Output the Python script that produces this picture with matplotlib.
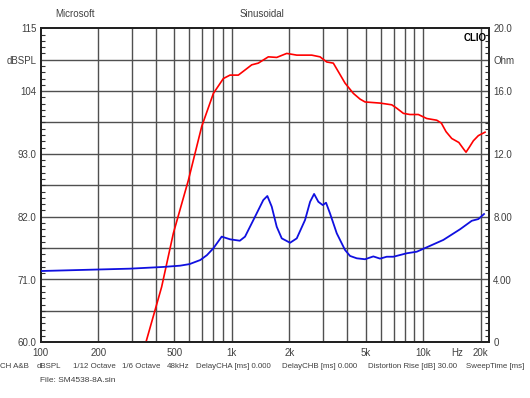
import matplotlib.pyplot as plt
from matplotlib.ticker import FixedLocator, NullFormatter

plt.rcParams['font.family'] = ['Liberation Sans', 'DejaVu Sans']

# SPL response (red, left axis, dBSPL)
spl_freq = [330, 355, 429, 494, 592, 695, 800, 902, 977, 1080, 1171, 1269, 1374,
            1550, 1715, 1935, 2183, 2614, 2890, 3132, 3390, 3676, 3904, 4315,
            4677, 4967, 5952, 6853, 7278, 7882, 8526, 9437, 10440, 11780, 12450,
            13170, 14110, 15370, 16320, 16760, 17460, 18310, 19440, 21070]
spl_db = [56.0, 60.0, 69.7, 79.1, 88.4, 97.8, 103.6, 106.2, 106.8, 106.8, 107.7,
          108.6, 108.9, 110.0, 109.9, 110.6, 110.3, 110.3, 110.0, 109.1, 108.9,
          106.9, 105.4, 103.6, 102.6, 102.1, 101.9, 101.6, 101.0, 100.1, 99.9,
          99.9, 99.2, 98.9, 98.4, 96.9, 95.7, 95.0, 93.8, 93.3, 94.2, 95.3, 96.2,
          96.8]

# Impedance (blue, right axis, Ohm)
imp_freq = [100, 293, 438, 535, 600, 683, 740, 800, 884, 978, 1100, 1171, 1321,
            1459, 1532, 1615, 1715, 1822, 2014, 2183, 2412, 2563, 2690, 2831,
            2985, 3106, 3260, 3534, 3904, 4147, 4496, 4967, 5490, 5952, 6450,
            6985, 8208, 9258, 10440, 12750, 15600, 17960, 19440, 20820]
imp_ohm = [4.54, 4.69, 4.80, 4.88, 4.98, 5.24, 5.55, 5.99, 6.73, 6.56, 6.47, 6.73,
           8.00, 9.06, 9.32, 8.64, 7.36, 6.62, 6.34, 6.62, 7.79, 8.95, 9.45, 8.95,
           8.74, 8.89, 8.20, 6.94, 5.88, 5.50, 5.35, 5.29, 5.47, 5.33, 5.45, 5.45,
           5.67, 5.77, 6.05, 6.52, 7.20, 7.74, 7.85, 8.17]

db_ticks = [60, 71, 82, 93, 104, 109.5, 115]
db_labels = ['60.0', '71.0', '82.0', '93.0', '104', 'dBSPL', '115']
ohm_ticks = [0, 4, 8, 12, 16, 18, 20]
ohm_labels = ['0', '4.00', '8.00', '12.0', '16.0', 'Ohm', '20.0']
freq_ticks = [100, 200, 500, 1000, 2000, 5000, 10000, 15000, 20000]
freq_labels = ['100', '200', '500', '1k', '2k', '5k', '10k', 'Hz', '20k']
grid_db = [65.5, 71, 76.5, 82, 87.5, 93, 98.5, 104, 109.5]
grid_freq = [200, 300, 400, 500, 600, 700, 800, 900, 1000, 2000, 3000, 4000,
             5000, 6000, 7000, 8000, 9000, 10000, 20000]

footer = ['CH A&B', 'dBSPL', '1/12 Octave', '1/6 Octave', '48kHz',
          'DelayCHA [ms] 0.000', 'DelayCHB [ms] 0.000',
          'Distortion Rise [dB] 30.00', 'SweepTime [ms]']
footer_x = [0, 37, 73, 122, 167, 196, 282, 368, 466]

txt = '#404040'
fig = plt.figure(figsize=(5.3, 3.98), dpi=100)
ax = fig.add_axes([40.7 / 530, 1 - 342.3 / 398, (489 - 40.7) / 530, 314 / 398])
ax.set_xscale('log')
ax.set_xlim(100, 22100)
ax.set_ylim(60, 115)

for f in grid_freq:
    ax.axvline(f, color='#505050', lw=1.0, zorder=1)
for d in grid_db:
    ax.axhline(d, color='#505050', lw=1.0, zorder=1)

ax.plot(spl_freq, spl_db, color='#ff0000', lw=1.2, zorder=3)

ax2 = ax.twinx()
ax2.set_ylim(0, 20)
ax2.plot(imp_freq, imp_ohm, color='#1010e0', lw=1.3, zorder=3)

ax.xaxis.set_major_locator(FixedLocator(freq_ticks))
ax.set_xticklabels(freq_labels)
ax.xaxis.set_minor_formatter(NullFormatter())
ax.tick_params(axis='x', which='both', length=0, pad=4, labelsize=7, labelcolor=txt)

ax.set_yticks(db_ticks)
ax.set_yticklabels(db_labels)
ax.yaxis.set_minor_locator(FixedLocator([60 + 1.1 * i for i in range(51)]))
ax.tick_params(axis='y', which='major', length=0, pad=3, labelsize=7, labelcolor=txt)
ax.tick_params(axis='y', which='minor', direction='in', length=3, width=0.8, color='#303030')

ax2.set_yticks(ohm_ticks)
ax2.set_yticklabels(ohm_labels)
ax2.yaxis.set_minor_locator(FixedLocator([0.4 * i for i in range(51)]))
ax2.tick_params(axis='y', which='major', length=0, pad=3, labelsize=7, labelcolor=txt)
ax2.tick_params(axis='y', which='minor', direction='in', length=3, width=0.8, color='#303030')

for a in (ax, ax2):
    for s in a.spines.values():
        s.set_linewidth(1.3)
        s.set_color('#202020')

ax.text(0.995, 0.985, 'CLIO', transform=ax.transAxes, ha='right', va='top',
        fontsize=7, fontweight='bold', color='black', zorder=5)

fig.text(55 / 530, 1 - 14 / 398, 'Microsoft', ha='left', va='center', fontsize=7, color=txt)
fig.text(262 / 530, 1 - 14 / 398, 'Sinusoidal', ha='center', va='center', fontsize=7, color=txt)
for label, x in zip(footer, footer_x):
    fig.text(x / 530, 1 - 366 / 398, label, ha='left', va='center', fontsize=5.7, color=txt)
fig.text(40 / 530, 1 - 380 / 398, 'File: SM4538-8A.sin', ha='left', va='center',
         fontsize=6, color=txt)

fig.savefig('out.png', dpi=100, facecolor='white')
